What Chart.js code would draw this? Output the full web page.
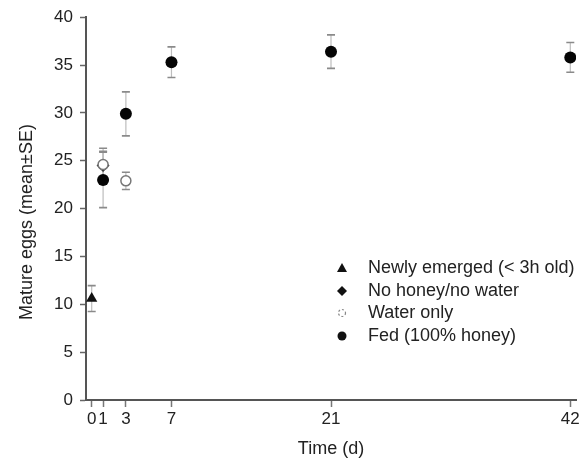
<!DOCTYPE html>
<html>
<head>
<meta charset="utf-8">
<script src="https://cdn.jsdelivr.net/npm/chart.js@4"></script>
<style>
html, body { margin: 0; padding: 0; background: #fff; }
</style>
</head>
<body>
<canvas id="eggChart" width="584" height="463"></canvas>
<script>
// sampling days shown on the time axis
var dayTicks = [0, 1, 3, 7, 21, 42];

// newly emerged females (< 3h old)
var newlyDay = [0];
var newlyMean = [10.6];
var newlySE = [1.35];

// no honey / no water
var starvedDay = [1];
var starvedMean = [24.5];
var starvedSE = [1.5];

// water only
var waterDay = [1, 3];
var waterMean = [24.6, 22.9];
var waterSE = [1.7, 0.9];

// fed 100% honey
var fedDay = [1, 3, 7, 21, 42];
var fedMean = [23.0, 29.9, 35.3, 36.4, 35.8];
var fedSE = [2.9, 2.3, 1.6, 1.75, 1.55];

var legendLabels = ["Newly emerged (< 3h old)", "No honey/no water", "Water only", "Fed (100% honey)"];

var FONT = "'Liberation Sans', Arial, sans-serif";

function toPoints(days, means, ses){
	var pts = [];
	for(var i=0;i<days.length;i++){
		pts.push({x: days[i], y: means[i], se: ses[i]});
	}
	return pts;
}

// vertical SE bars with caps, drawn under the markers
var errorBars = {
	id: 'errorBars',
	beforeDatasetsDraw: function(chart){
		var ctx = chart.ctx;
		var xs = chart.scales.x, ys = chart.scales.y;
		ctx.save();
		chart.data.datasets.forEach(function(ds){
			ds.data.forEach(function(p){
				var px = xs.getPixelForValue(p.x);
				var top = ys.getPixelForValue(p.y + p.se);
				var bot = ys.getPixelForValue(p.y - p.se);
				ctx.strokeStyle = '#bdbdbd';
				ctx.lineWidth = 1.2;
				ctx.beginPath();
				ctx.moveTo(px, top);
				ctx.lineTo(px, bot);
				ctx.stroke();
				ctx.strokeStyle = '#8a8a8a';
				ctx.lineWidth = 1.6;
				ctx.beginPath();
				ctx.moveTo(px - 4, top);
				ctx.lineTo(px + 4, top);
				ctx.moveTo(px - 4, bot);
				ctx.lineTo(px + 4, bot);
				ctx.stroke();
			});
		});
		ctx.restore();
	}
};

// y title and the in-plot legend
var extras = {
	id: 'extras',
	afterDraw: function(chart){
		var ctx = chart.ctx;
		ctx.save();
		ctx.fillStyle = '#222';
		ctx.font = '18px ' + FONT;
		ctx.textAlign = 'center';
		ctx.textBaseline = 'middle';
		ctx.translate(27, 222);
		ctx.rotate(-Math.PI/2);
		ctx.fillText('Mature eggs (mean\u00b1SE)', 0, 0);
		ctx.restore();

		var rows = [268, 291, 313, 336];
		var mx = 342, tx = 368;
		ctx.save();
		// triangle
		ctx.fillStyle = '#111';
		ctx.beginPath();
		ctx.moveTo(mx, rows[0] - 5);
		ctx.lineTo(mx + 5, rows[0] + 4);
		ctx.lineTo(mx - 5, rows[0] + 4);
		ctx.closePath();
		ctx.fill();
		// diamond
		ctx.beginPath();
		ctx.moveTo(mx, rows[1] - 5);
		ctx.lineTo(mx + 5, rows[1]);
		ctx.lineTo(mx, rows[1] + 5);
		ctx.lineTo(mx - 5, rows[1]);
		ctx.closePath();
		ctx.fill();
		// open circle
		ctx.strokeStyle = '#888';
		ctx.lineWidth = 1.2;
		ctx.setLineDash([2, 2]);
		ctx.beginPath();
		ctx.arc(mx, rows[2], 3.5, 0, Math.PI*2);
		ctx.stroke();
		ctx.setLineDash([]);
		// filled circle
		ctx.beginPath();
		ctx.arc(mx, rows[3], 4.5, 0, Math.PI*2);
		ctx.fill();

		ctx.fillStyle = '#222';
		ctx.font = '18px ' + FONT;
		ctx.textAlign = 'left';
		ctx.textBaseline = 'middle';
		for(var i=0;i<legendLabels.length;i++){
			ctx.fillText(legendLabels[i], tx, rows[i]);
		}
		ctx.restore();
	}
};

var eggChart = new Chart(document.getElementById('eggChart').getContext('2d'), {
	type: 'scatter',
	data: {
		datasets: [{
			label: legendLabels[0],
			data: toPoints(newlyDay, newlyMean, newlySE),
			pointStyle: 'triangle',
			pointRadius: 6.5,
			backgroundColor: '#111',
			borderColor: '#111',
			borderWidth: 0
		},{
			label: legendLabels[2],
			data: toPoints(waterDay, waterMean, waterSE),
			pointStyle: 'circle',
			pointRadius: 5,
			backgroundColor: '#fff',
			borderColor: '#777',
			borderWidth: 1.5
		},{
			label: legendLabels[1],
			data: toPoints(starvedDay, starvedMean, starvedSE),
			pointStyle: 'rectRot',
			pointRadius: 6.5,
			backgroundColor: '#333',
			borderColor: '#333',
			borderWidth: 0
		},{
			label: legendLabels[3],
			data: toPoints(fedDay, fedMean, fedSE),
			pointStyle: 'circle',
			pointRadius: 6,
			backgroundColor: '#050505',
			borderColor: '#050505',
			borderWidth: 0
		}]
	},
	options: {
		responsive: false,
		animation: false,
		layout: { padding: { top: 12, right: 8, left: 0, bottom: 0 } },
		plugins: {
			legend: { display: false },
			tooltip: { enabled: false }
		},
		scales: {
			x: {
				type: 'linear',
				min: -0.5,
				max: 42.5,
				afterBuildTicks: function(s){
					s.ticks = dayTicks.map(function(v){ return {value: v}; });
				},
				afterFit: function(s){ s.height = 63; },
				ticks: {
					autoSkip: false,
					maxRotation: 0,
					padding: 2,
					color: '#222',
					font: { family: FONT, size: 17 }
				},
				grid: { drawOnChartArea: false, tickLength: 7, tickWidth: 1.5, color: '#777' },
				border: { display: true, color: '#555', width: 2 },
				title: {
					display: true,
					text: 'Time (d)',
					color: '#222',
					font: { family: FONT, size: 18 },
					padding: { top: 0, bottom: 3 }
				}
			},
			y: {
				min: 0,
				max: 40,
				afterFit: function(s){ s.width = 86; },
				ticks: {
					stepSize: 5,
					padding: 7,
					color: '#222',
					font: { family: FONT, size: 17 }
				},
				grid: { drawOnChartArea: false, tickLength: 6, tickWidth: 1.5, color: '#666' },
				border: { display: true, color: '#555', width: 2 }
			}
		}
	},
	plugins: [errorBars, extras]
});
</script>
</body>
</html>
